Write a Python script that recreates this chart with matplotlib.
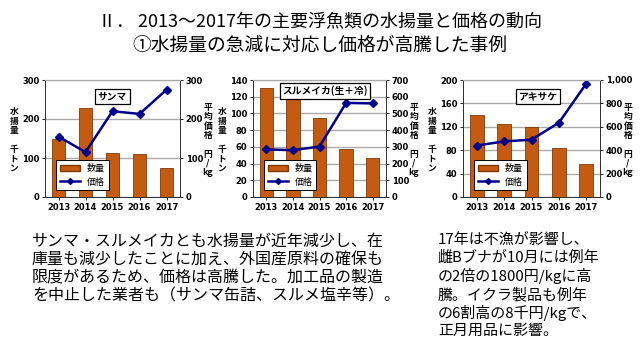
import numpy as np
import matplotlib.pyplot as plt
from matplotlib.lines import Line2D
from matplotlib.patches import Patch

plt.rcParams['font.family'] = ['Noto Sans CJK JP', 'DejaVu Sans']

years = ['2013', '2014', '2015', '2016', '2017']

# サンマ
sanma_qty = [150, 227, 113, 110, 74]
sanma_price = [155, 115, 220, 213, 275]
# スルメイカ
ika_qty = [131, 123, 95, 58, 47]
ika_price = [285, 280, 302, 563, 560]
# アキサケ
sake_qty = [140, 125, 120, 84, 57]
sake_price = [440, 475, 490, 635, 970]

charts = [
    ('サンマ', sanma_qty, sanma_price, (0, 300, 100), (0, 300, 100), 0.5, 0.9),
    ('スルメイカ(生＋冷)', ika_qty, ika_price, (0, 140, 20), (0, 700, 100), 0.54, 0.955),
    ('アキサケ', sake_qty, sake_price, (0, 200, 40), (0, 1000, 200), 0.55, 0.9),
]
lefts = [45, 253, 463]
widths = [135, 133, 137]

bar_col = '#C55A11'
line_col = '#00008B'

fig = plt.figure(figsize=(6.4, 3.6), dpi=100)

for (name, qty, price, lt, rt, bx, by), l, w in zip(charts, lefts, widths):
    ax = fig.add_axes([l / 640, (360 - 197) / 360, w / 640, 117 / 360])
    x = np.arange(len(years))
    ax.bar(x, qty, width=0.5, color=bar_col, edgecolor='#7f3a0b', linewidth=0.6, zorder=2)
    ax.set_xlim(-0.5, 4.5)
    ax.set_ylim(lt[0], lt[1])
    ax.set_yticks(np.arange(lt[0], lt[1] + 1, lt[2]))
    ax.set_xticks(x)
    ax.set_xticklabels(years)
    ax.yaxis.grid(True, color='#aaaaaa', lw=1, zorder=0)
    ax.set_axisbelow(True)
    ax.tick_params(labelsize=6, length=2, width=0.6, pad=2)
    for t in ax.get_xticklabels() + ax.get_yticklabels():
        t.set_fontweight('bold')
        t.set_family('DejaVu Sans')

    ax2 = ax.twinx()
    ax2.plot(x, price, color=line_col, lw=1.8, marker='D', ms=4.5)
    ax2.set_ylim(rt[0], rt[1])
    rticks = np.arange(rt[0], rt[1] + 1, rt[2])
    ax2.set_yticks(rticks)
    ax2.set_yticklabels([f'{v:,}' for v in rticks])
    ax2.tick_params(labelsize=6, length=2, width=0.6, pad=2)
    for t in ax2.get_yticklabels():
        t.set_fontweight('bold')
        t.set_family('DejaVu Sans')
    for a in (ax, ax2):
        a.spines['top'].set_color('#aaaaaa')
        for s in ('left', 'right', 'bottom'):
            a.spines[s].set_color('#333333')
            a.spines[s].set_linewidth(0.7)

    ax2.text(bx, by, name, transform=ax2.transAxes, ha='center', va='top',
             fontsize=7, fontweight='bold',
             bbox=dict(boxstyle='square,pad=0.25', fc='white', ec='black', lw=0.9))

    handles = [Patch(facecolor=bar_col, edgecolor='#7f3a0b', label='数量'),
               Line2D([0], [0], color=line_col, lw=1.8, marker='D', ms=3, label='価格')]
    leg = ax2.legend(handles=handles, loc='lower left', bbox_to_anchor=(0.05, 0.02),
                     fontsize=6.5, frameon=True, fancybox=False, edgecolor='black',
                     framealpha=1, handlelength=2.2, borderpad=0.4, labelspacing=0.5)
    leg.get_frame().set_linewidth(0.7)

    fig.text((l - 31) / 640, 1 - 140 / 360, '水\n揚\n量\n\n千\nト\nン', ha='center', va='center',
             fontsize=6.3, fontweight='bold', linespacing=1.05)
    fig.text((l + w + 28) / 640, 1 - 140 / 360, '平\n均\n価\n格\n\n円\n/\nkg', ha='center', va='center',
             fontsize=6.3, fontweight='bold', linespacing=1.05)

fig.text(0.5, 1 - 22 / 360, 'Ⅱ． 2013～2017年の主要浮魚類の水揚量と価格の動向', ha='center', va='center',
         fontsize=13)
fig.text(0.5, 1 - 45 / 360, '①水揚量の急減に対応し価格が高騰した事例', ha='center', va='center',
         fontsize=13.5)

fig.text(32 / 640, 1 - 233 / 360,
         'サンマ・スルメイカとも水揚量が近年減少し、在\n'
         '庫量も減少したことに加え、外国産原料の確保も\n'
         '限度があるため、価格は高騰した。加工品の製造\n'
         'を中止した業者も（サンマ缶詰、スルメ塩辛等）。',
         ha='left', va='top', fontsize=11.5, linespacing=1.1)

fig.text(438 / 640, 1 - 234 / 360,
         '17年は不漁が影響し、\n'
         '雌Bブナが10月には例年\n'
         'の2倍の1800円/kgに高\n'
         '騰。イクラ製品も例年\n'
         'の6割高の8千円/kgで、\n'
         '正月用品に影響。',
         ha='left', va='top', fontsize=10.8, linespacing=1.25)

fig.savefig('out.png', dpi=100)
